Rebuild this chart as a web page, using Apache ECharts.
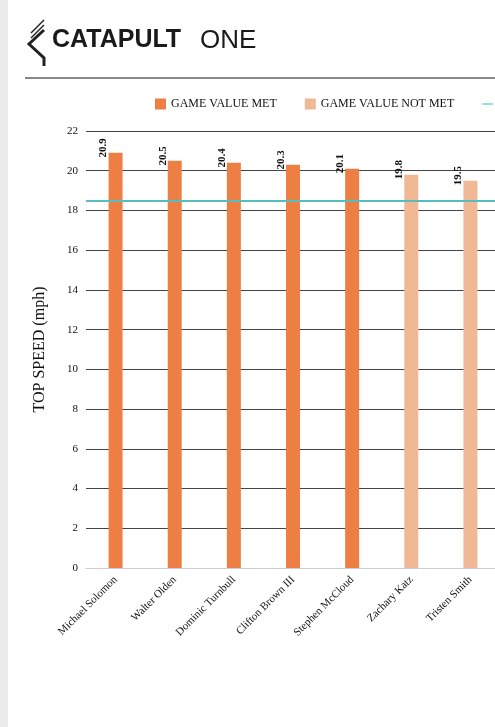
<!DOCTYPE html>
<html><head><meta charset="utf-8">
<script src="https://cdn.jsdelivr.net/npm/echarts@6/dist/echarts.min.js"></script>
<style>html,body{margin:0;padding:0;background:#fff;overflow:hidden}#c{width:800px;height:727px}</style>
</head><body><div id="c"></div>
<script>
const players=['Michael Solomon','Walter Olden','Dominic Turnbull','Clifton Brown III','Stephen McCloud','Zachary Katz','Tristen Smith'];
const topSpeed=[20.9,20.5,20.4,20.3,20.1,19.8,19.5];
const gameValue=18.5;
const yTicks=[0,2,4,6,8,10,12,14,16,18,20,22];
const MET='#ED7F45',NOT='#F1B896';
const chart=echarts.init(document.getElementById('c'));
const serif='Liberation Serif';
const lbl={show:true,position:'top',rotate:90,align:'center',verticalAlign:'middle',offset:[0,-12],fontFamily:serif,fontWeight:'bold',fontSize:11,color:'#111'};
chart.setOption({
  animation:false,
  graphic:[
    {type:'rect',shape:{x:0,y:0,width:8,height:727},style:{fill:'#ececee'}},
    {type:'rect',shape:{x:25,y:77,width:775,height:2},style:{fill:'#888'}},
    {type:'polyline',shape:{points:[[44,30],[29,44],[44,58],[44,66]]},style:{stroke:'#222',lineWidth:3,fill:null}},
    {type:'line',shape:{x1:44,y1:25,x2:31,y2:38},style:{stroke:'#222',lineWidth:1.5}},
    {type:'line',shape:{x1:44,y1:20,x2:31,y2:33},style:{stroke:'#222',lineWidth:1.5}},
    {type:'text',left:52,top:28,style:{text:'CATAPULT',font:'bold 25px "Liberation Sans"',fill:'#1a1a1a'}},
    {type:'text',left:200,top:28,style:{text:'ONE',font:'300 26px "Liberation Sans"',fill:'#1a1a1a'}}
  ],
  legend:{top:93,left:150,itemGap:28,itemWidth:11,itemHeight:11,textStyle:{fontFamily:serif,fontSize:12,color:'#111'},
    data:[{name:'GAME VALUE MET',icon:'rect'},{name:'GAME VALUE NOT MET',icon:'rect'},{name:'AVERAGE GAME VALUE',icon:'path://M0,5L10,5L10,6L0,6Z'}]},
  grid:{left:86,right:300,top:131,bottom:159},
  xAxis:{type:'category',data:players,axisTick:{show:false},axisLine:{lineStyle:{color:'#ccd'}},
    axisLabel:{rotate:45,interval:0,fontFamily:serif,fontSize:11,color:'#111',margin:10}},
  yAxis:{type:'value',min:0,max:22,interval:2,name:'TOP SPEED (mph)',nameLocation:'middle',nameGap:38,
    nameTextStyle:{fontFamily:serif,fontSize:16,color:'#111'},
    axisLabel:{fontFamily:serif,fontSize:11,color:'#111'},splitLine:{lineStyle:{color:'#444'}}},
  series:[
    {name:'GAME VALUE MET',type:'bar',stack:'a',barWidth:14,
      data:topSpeed.map(v=>v>=gameValue+1.5?v:'-'),itemStyle:{color:MET},label:lbl},
    {name:'GAME VALUE NOT MET',type:'bar',stack:'a',barWidth:14,
      data:topSpeed.map(v=>v<gameValue+1.5?v:'-'),itemStyle:{color:NOT},label:lbl},
    {name:'AVERAGE GAME VALUE',type:'line',data:[],itemStyle:{color:'#56BDBE'},
      markLine:{silent:true,symbol:'none',label:{show:false},lineStyle:{color:'#56BDBE',width:2,type:'solid'},data:[{yAxis:gameValue}]}}
  ]
});
</script></body></html>
